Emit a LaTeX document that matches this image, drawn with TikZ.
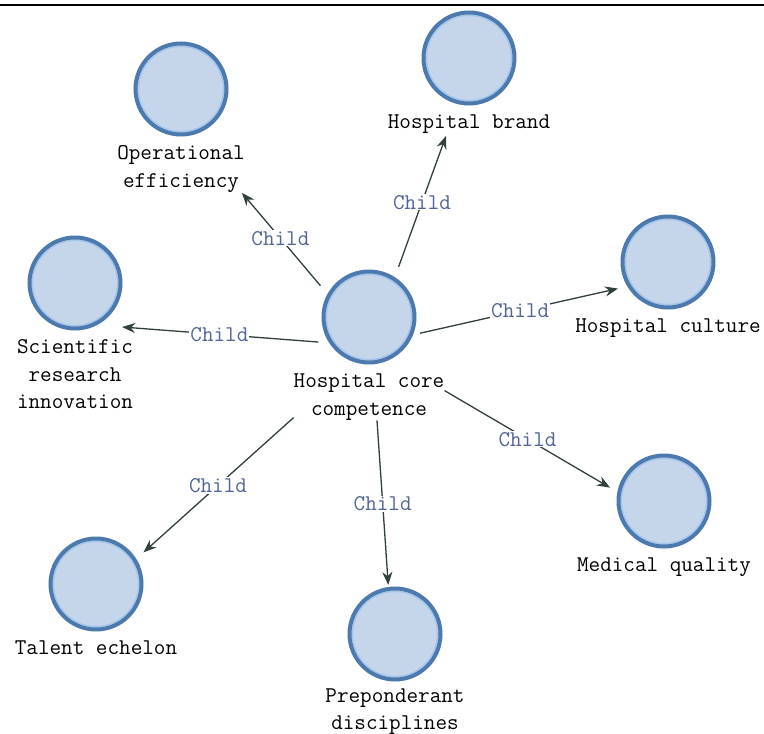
\documentclass[tikz,border=0pt]{standalone}
\usepackage{fontspec}
\usetikzlibrary{arrows.meta}
\definecolor{cfill}{RGB}{198,214,234}
\definecolor{cborder}{RGB}{76,121,174}
\definecolor{cring}{RGB}{165,198,236}
\definecolor{edgecol}{RGB}{48,64,60}
\definecolor{linkcol}{RGB}{82,100,152}
\begin{document}
\begin{tikzpicture}[x=1pt,y=-1pt,
  concept/.style={circle, inner sep=0pt, minimum size=91pt, fill=cfill,
    draw=cborder, line width=4pt,
    path picture={\draw[cring, line width=1.4pt]
      (path picture bounding box.center) circle (42.6pt);}},
  caption/.style={anchor=north, inner sep=0pt, align=center, text=black,
    font=\ttfamily\addfontfeatures{FakeBold=1.1}\fontsize{22.5}{27.5}\selectfont},
  link/.style={draw=edgecol, line width=1.3pt,
    -{Stealth[length=13pt,width=10pt]}},
  rel/.style={text=linkcol, fill=white, inner sep=1pt,
    font=\ttfamily\fontsize{22.5}{27.5}\selectfont}]

% canvas and top rule
\fill[white] (0,0) rectangle (764,734);
\useasboundingbox (0,0) rectangle (764,734);
\draw[line width=2.2pt] (0,5) -- (764,5);

% concept circles
\node[concept] (core)  at (369,317) {};
\node[concept] (op)    at (181,89)  {};
\node[concept] (brand) at (469,58)  {};
\node[concept] (cult)  at (668,262) {};
\node[concept] (sci)   at (75,283)  {};
\node[concept] (med)   at (664,501) {};
\node[concept] (tal)   at (96,584)  {};
\node[concept] (prep)  at (395,634) {};

% captions under the circles
\node[caption] (corel)  at ([yshift=-56.75pt]core.center)  {Hospital core\\competence};
\node[caption] (opl)    at ([yshift=-56.75pt]op.center)    {Operational\\efficiency};
\node[caption] (brandl) at ([yshift=-56.75pt]brand.center) {Hospital brand};
\node[caption] (cultl)  at ([yshift=-56.75pt]cult.center)  {Hospital culture};
\node[caption] (scil)   at ([yshift=-56.75pt]sci.center)   {Scientific\\research\\innovation};
\node[caption] (medl)   at ([yshift=-56.75pt]med.center)   {Medical quality};
\node[caption] (tall)   at ([yshift=-56.75pt]tal.center)   {Talent echelon};
\node[caption] (prepl)  at ([yshift=-54.5pt]prep.center)   {Preponderant\\disciplines};

% child relations
\draw[link, shorten <=10.9pt] (core.151.6)
  -- node[rel, pos=0.55] {Child} ([xshift=-3pt]opl.south east);
\draw[link, shorten <=11.1pt] (core.57.9)
  -- node[rel, pos=0.53] {Child} ([xshift=-23pt,yshift=-2pt]brandl.south);
\draw[link, shorten <=7.2pt, shorten >=9.5pt] (core.-22.7)
  -- node[rel, pos=0.5] {Child} (cult.211.7);
\draw[link, shorten <=10.9pt] (core.213.1)
  -- node[rel, pos=0.53] {Child} ([xshift=-11pt,yshift=12.75pt]scil.north east);
\draw[link, shorten >=8.5pt] ([yshift=6.5pt]corel.east)
  -- node[rel, pos=0.48] {Child} (med.169.1);
\draw[link, shorten >=2pt] ([xshift=8pt]corel.south)
  -- node[rel, pos=0.5] {Child} (prep.98.5);
\draw[link, shorten >=9.7pt] ([yshift=2.7pt]corel.south west)
  -- node[rel, pos=0.48] {Child} (tal.32.2);
\end{tikzpicture}
\end{document}
